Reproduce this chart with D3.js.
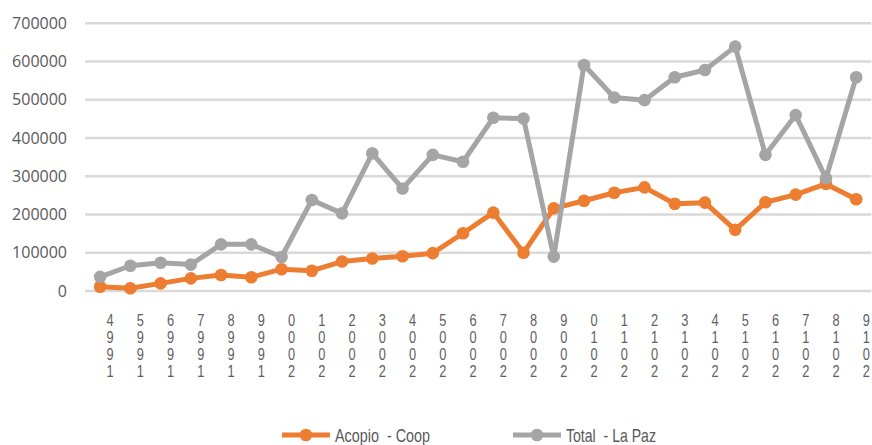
<!DOCTYPE html>
<html><head><meta charset="utf-8">
<script src="https://cdn.jsdelivr.net/npm/d3@7"></script>
<style>body{margin:0;background:#fff;} svg{display:block;}</style>
</head><body>
<svg id="c" width="872" height="445"></svg>
<script>
const years = [1994,1995,1996,1997,1998,1999,2000,2001,2002,2003,2004,2005,2006,2007,2008,2009,2010,2011,2012,2013,2014,2015,2016,2017,2018,2019];
const acopio = [11000,7000,20000,33000,42000,36000,57000,53000,77000,85000,91000,99000,151000,205000,100000,216000,236000,257000,271000,228000,231000,160000,232000,252000,280000,240000];
const total = [37000,66000,74000,69000,122000,122000,89000,238000,203000,360000,268000,356000,338000,453000,451000,90000,591000,506000,499000,559000,578000,639000,356000,460000,295000,559000];
const yTicks = [0,100000,200000,300000,400000,500000,600000,700000];
const seriesNames = ["Acopio  - Coop","Total  - La Paz"];
const colors = ["#ED7D31","#A5A5A5"];

const svg = d3.select("#c");
const x = d3.scaleBand().domain(years).range([85, 871.3]);
const y = d3.scaleLinear().domain([0,700000]).range([291, 23.3]);
const cxOf = d => x(d) + x.bandwidth()/2;

// gridlines
svg.append("g").selectAll("line").data(yTicks).join("line")
  .attr("x1", 85).attr("x2", 871.3)
  .attr("y1", d=>y(d)).attr("y2", d=>y(d))
  .attr("stroke", "#D9D9D9").attr("stroke-width", 2.5);

// y labels
svg.append("g").selectAll("text").data(yTicks).join("text")
  .attr("x", 67).attr("y", d=>y(d)).attr("dy", "0.35em")
  .attr("text-anchor", "end")
  .attr("font-family", "'Open Sans', sans-serif").attr("font-size", 16)
  .attr("fill", "#595959").text(d=>d);

// x labels: stacked reversed digits, condensed
const xg = svg.append("g").selectAll("g").data(years).join("g")
  .attr("transform", d=>`translate(${cxOf(d)+10},0) scale(0.8,1)`);
xg.append("text")
  .attr("font-family", "'Liberation Sans', Arial, sans-serif")
  .attr("font-size", 16).attr("fill", "#606060").attr("text-anchor", "middle")
  .each(function(d){
    const t = d3.select(this);
    String(d).split("").reverse().forEach((ch,i)=>{
      t.append("tspan").attr("x", 0).attr("y", 326 + i*16.9).text(ch);
    });
  });

const line = d3.line().x((d,i)=>cxOf(years[i])).y(d=>y(d));
[acopio, total].forEach((vals, k)=>{
  const g = svg.append("g");
  g.append("path").datum(vals).attr("d", line)
    .attr("fill","none").attr("stroke", colors[k]).attr("stroke-width", 5)
    .attr("stroke-linejoin","round");
  g.selectAll("circle").data(vals).join("circle")
    .attr("cx", (d,i)=>cxOf(years[i])).attr("cy", d=>y(d))
    .attr("r", 6.3).attr("fill", colors[k]);
});

// legend
const legX = [282, 513];
const legW = [95, 90];
seriesNames.forEach((name,k)=>{
  const g = svg.append("g");
  g.append("line").attr("x1", legX[k]).attr("x2", legX[k]+48).attr("y1", 435).attr("y2", 435)
    .attr("stroke", colors[k]).attr("stroke-width", 5);
  g.append("circle").attr("cx", legX[k]+24).attr("cy", 435).attr("r", 6.3).attr("fill", colors[k]);
  g.append("text").attr("x", legX[k]+53).attr("y", 435).attr("dy","0.36em")
    .attr("font-family", "'Liberation Sans', Arial, sans-serif")
    .attr("font-size", 18.5).attr("fill", "#595959")
    .attr("textLength", legW[k]).attr("lengthAdjust", "spacingAndGlyphs")
    .style("white-space","pre").text(name);
});
</script>
</body></html>
